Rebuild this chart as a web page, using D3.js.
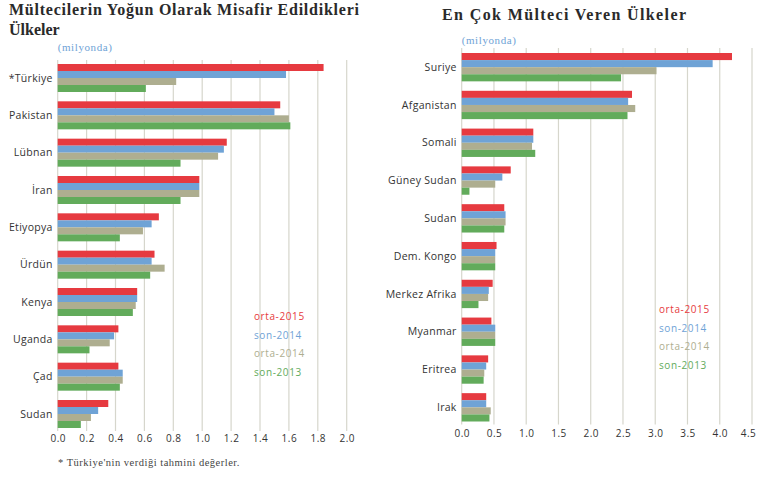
<!DOCTYPE html>
<html>
<head>
<meta charset="utf-8">
<script src="https://cdn.jsdelivr.net/npm/d3@7"></script>
<style>
  body { margin: 0; background: #fff; }
  svg { display: block; }
  .title { font-family: "Liberation Serif", "DejaVu Serif", serif; font-weight: bold; font-size: 16px; fill: #2a2a2a; }
  .unit { font-family: "Liberation Serif", serif; font-size: 11px; letter-spacing: 0.6px; fill: #6fa3d6; }
  .cat { font-family: "Open Sans", "Noto Sans", sans-serif; font-size: 10.5px; letter-spacing: 0.3px; fill: #333; }
  .tick text { font-family: "Open Sans", "Noto Sans", sans-serif; font-size: 10px; letter-spacing: 0.5px; fill: #333; }
  .leg { font-family: "Open Sans", "Noto Sans", sans-serif; font-size: 10px; letter-spacing: 0.6px; }
  .note { font-family: "Liberation Serif", serif; font-size: 10.5px; letter-spacing: 0.5px; fill: #444; }
</style>
</head>
<body>
<div id="chart"></div>
<script>
// series, same order in both panels
var series = ["orta-2015", "son-2014", "orta-2014", "son-2013"];
var colors = ["#e63a40", "#6fa3d6", "#aeae90", "#62ab5b"];

// left: host countries
var hostCats = ["*Türkiye", "Pakistan", "Lübnan", "İran", "Etiyopya", "Ürdün", "Kenya", "Uganda", "Çad", "Sudan"];
var host2015m = [1.84, 1.54, 1.17, 0.98, 0.70, 0.67, 0.55, 0.42, 0.42, 0.35];
var host2014e = [1.58, 1.50, 1.15, 0.98, 0.65, 0.65, 0.55, 0.39, 0.45, 0.28];
var host2014m = [0.82, 1.60, 1.11, 0.98, 0.59, 0.74, 0.54, 0.36, 0.45, 0.23];
var host2013e = [0.61, 1.61, 0.85, 0.85, 0.43, 0.64, 0.52, 0.22, 0.43, 0.16];
var hostTicks = [0, 0.2, 0.4, 0.6, 0.8, 1.0, 1.2, 1.4, 1.6, 1.8, 2.0];

// right: origin countries
var originCats = ["Suriye", "Afganistan", "Somali", "Güney Sudan", "Sudan", "Dem. Kongo", "Merkez Afrika", "Myanmar", "Eritrea", "Irak"];
var origin2015m = [4.19, 2.64, 1.11, 0.76, 0.66, 0.54, 0.48, 0.46, 0.41, 0.38];
var origin2014e = [3.89, 2.58, 1.11, 0.63, 0.68, 0.52, 0.42, 0.52, 0.38, 0.38];
var origin2014m = [3.02, 2.69, 1.09, 0.52, 0.68, 0.52, 0.41, 0.52, 0.35, 0.45];
var origin2013e = [2.47, 2.57, 1.14, 0.12, 0.66, 0.52, 0.26, 0.52, 0.34, 0.43];
var originTicks = [0, 0.5, 1.0, 1.5, 2.0, 2.5, 3.0, 3.5, 4.0, 4.5];

var svg = d3.select("#chart").append("svg")
    .attr("width", 757)
    .attr("height", 482);

function panel(o) {
    var g = svg.append("g");
    var x = d3.scaleLinear().domain(o.domain).range([o.x0, o.x1]);
    var y = d3.scaleBand().domain(o.cats).range([o.y0, o.y1]).paddingInner(0.25).paddingOuter(0);
    var ys = d3.scaleBand().domain(series).range([0, y.bandwidth()]);

    // grid
    g.selectAll("line.grid").data(o.ticks).enter().append("line")
	.attr("class", "grid")
	.attr("x1", function(d){return x(d)})
	.attr("x2", function(d){return x(d)})
	.attr("y1", o.gridTop)
	.attr("y2", o.y1 + 3)
	.attr("stroke", "#d6d6cc")
	.attr("stroke-width", 1.2);

    var rows = o.cats.map(function(c, i) {
	return {cat: c, vals: o.values.map(function(v){return v[i]})};
    });

    var grp = g.selectAll("g.grp").data(rows).enter().append("g")
	.attr("transform", function(d){return "translate(0," + y(d.cat) + ")"});

    grp.selectAll("rect").data(function(d){return d.vals}).enter().append("rect")
	.attr("x", x(0))
	.attr("y", function(d, i){return ys(series[i])})
	.attr("width", function(d){return x(d) - x(0)})
	.attr("height", ys.bandwidth())
	.attr("fill", function(d, i){return colors[i]});

    grp.append("text")
	.attr("class", "cat")
	.attr("x", x(0) - 5)
	.attr("y", y.bandwidth() / 2)
	.attr("dy", "0.35em")
	.attr("text-anchor", "end")
	.text(function(d){return d.cat});

    var axis = d3.axisBottom(x).tickValues(o.ticks).tickSize(0).tickPadding(0)
	.tickFormat(d3.format(".1f"));
    var ax = g.append("g")
	.attr("transform", "translate(0," + o.axisY + ")")
	.call(axis)
	.call(function(s){s.select(".domain").remove()});
    // keep the last label inside the window
    if (o.lastShift) ax.selectAll(".tick:last-of-type text").attr("dx", o.lastShift);

    g.append("text").attr("class", "unit")
	.attr("x", x(0)).attr("y", o.unitY)
	.text("(milyonda)");

    g.selectAll("text.leg").data(series).enter().append("text")
	.attr("class", "leg")
	.attr("x", o.legX)
	.attr("y", function(d, i){return o.legY + i * 18.7})
	.attr("fill", function(d, i){return colors[i]})
	.text(function(d){return d});
}

panel({cats: hostCats, values: [host2015m, host2014e, host2014m, host2013e],
       domain: [0, 2], ticks: hostTicks, x0: 57.7, x1: 346.7,
       y0: 64, y1: 428, gridTop: 60, axisY: 435, unitY: 51,
       legX: 254, legY: 320});

panel({cats: originCats, values: [origin2015m, origin2014e, origin2014m, origin2013e],
       domain: [0, 4.5], ticks: originTicks, x0: 461.7, x1: 752,
       y0: 53, y1: 421.5, gridTop: 48, axisY: 430, unitY: 44,
       legX: 659, legY: 313, lastShift: -4});

svg.append("text").attr("class", "title").attr("x", 9).attr("y", 15)
    .attr("textLength", 350).attr("lengthAdjust", "spacing")
    .text("Mültecilerin Yoğun Olarak Misafir Edildikleri");
svg.append("text").attr("class", "title").attr("x", 9).attr("y", 35)
    .text("Ülkeler");
svg.append("text").attr("class", "title").attr("x", 442).attr("y", 20)
    .attr("textLength", 244).attr("lengthAdjust", "spacing")
    .text("En Çok Mülteci Veren Ülkeler");
svg.append("text").attr("class", "note").attr("x", 58).attr("y", 466)
    .text("* Türkiye'nin verdiği tahmini değerler.");
</script>
</body>
</html>
